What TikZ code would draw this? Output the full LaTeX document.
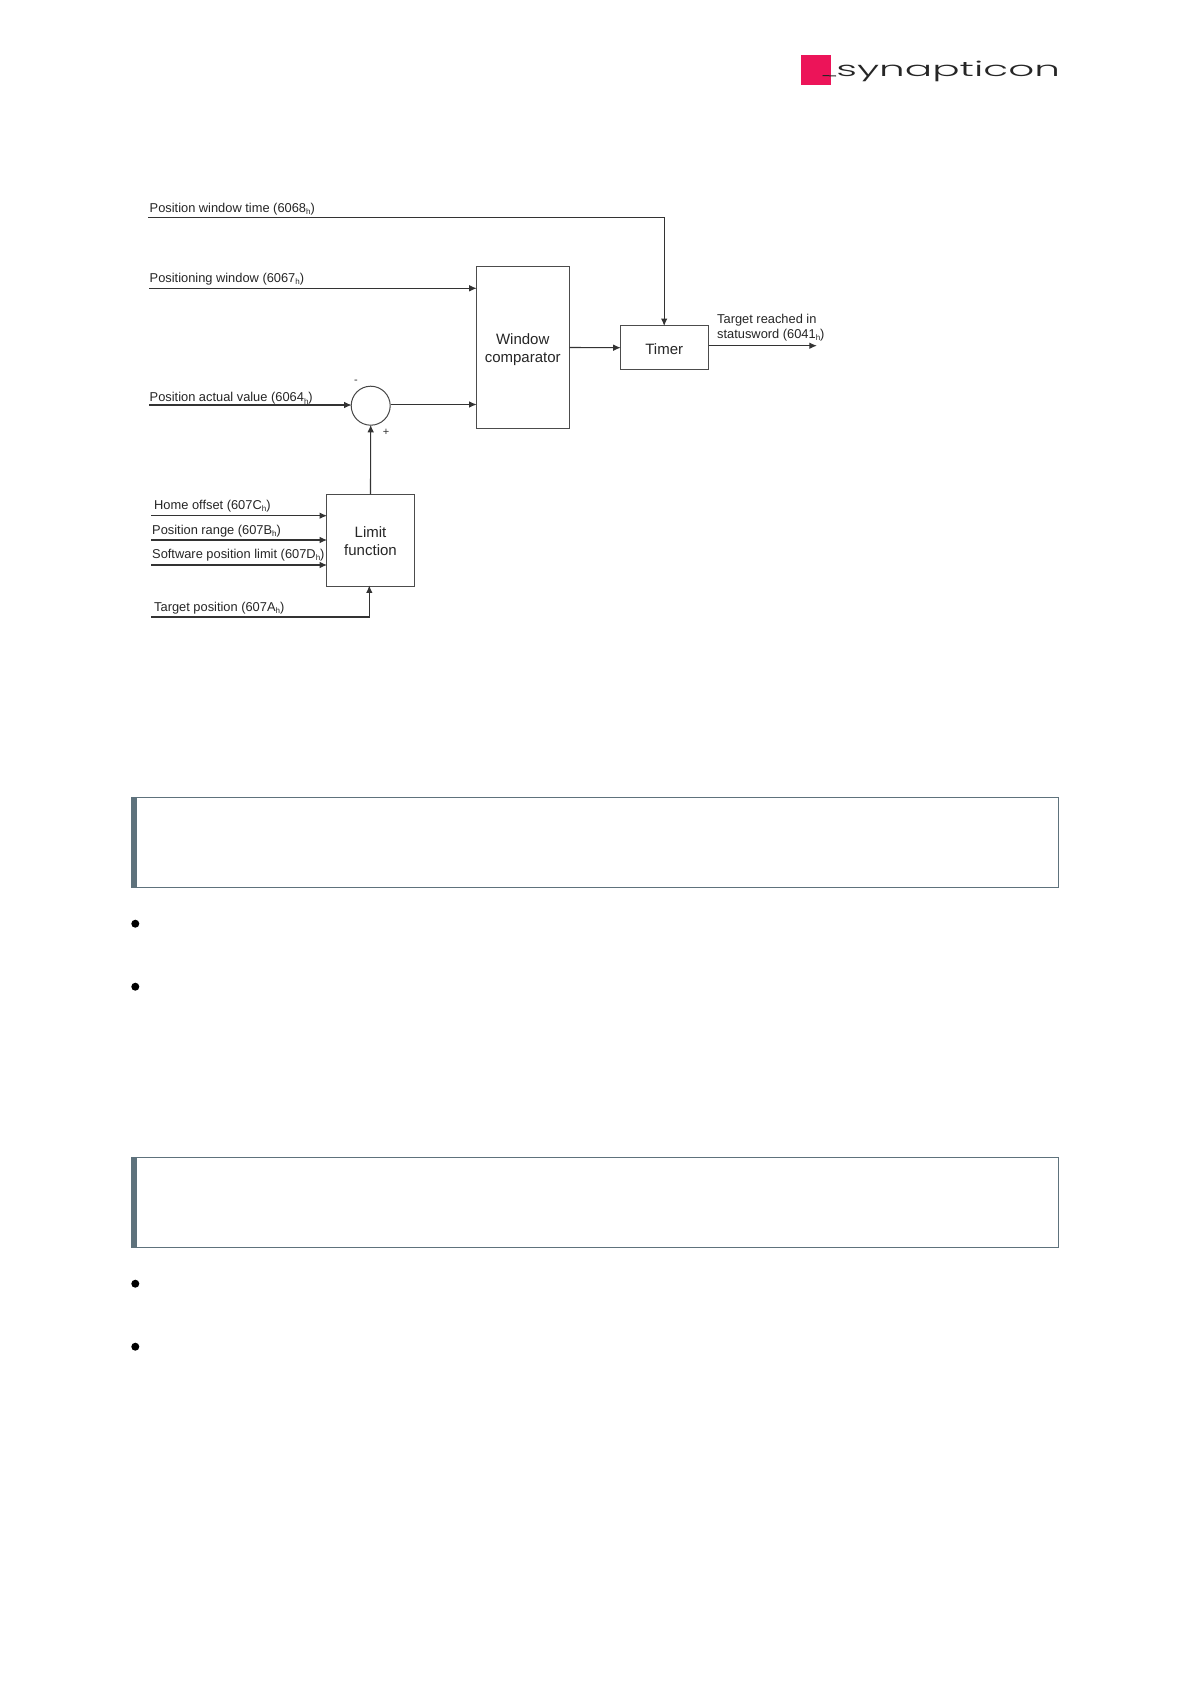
\documentclass[tikz,border=0pt]{standalone}
\usepackage{fontspec}
\setmainfont{Liberation Sans}
\newfontfamily\logofont{Poppins Light}
\usetikzlibrary{arrows.meta,calc}
\newcommand{\hsb}[1]{#1\raisebox{-2.4pt}{\fontsize{8}{8}\selectfont h})}
\tikzset{
  wire/.style={draw=black!80,line width=1.1pt},
  arr/.style={wire,shorten >=-0.9pt,-{Latex[length=7.5pt,width=6.5pt]}},
  blockbox/.style={draw=black!70,line width=1.05pt,fill=white,inner sep=0pt,align=center},
  lab/.style={anchor=base west,inner sep=0pt,font=\fontsize{12.85}{14}\selectfont,text=black!85},
  blab/.style={anchor=base,inner sep=0pt,font=\fontsize{15}{16}\selectfont,text=black!85},
  sgn/.style={inner sep=0pt,font=\fontsize{11}{11}\selectfont,text=black!80},
  panel/.style={draw=panelc,line width=1.1pt,fill=white},
  panelbar/.style={fill=panelc,draw=none},
  bullet/.style={circle,fill=black,draw=none,minimum size=8pt,inner sep=0pt}
}
\definecolor{panelc}{HTML}{5E727C}
\definecolor{logor}{HTML}{EC1459}
\begin{document}
\begin{tikzpicture}[x=1pt,y=-1pt]
\useasboundingbox (0,0) rectangle (1190,1684);
\fill[white] (0,0) rectangle (1190,1684);
% logo
\node[fill=logor,minimum width=30pt,minimum height=30pt,inner sep=0pt] (logosq) at (816,70) {};
\node[anchor=base west,inner sep=0pt,text=black!85,font=\logofont\fontsize{20.5}{22}\selectfont,xscale=1.98] (logotx) at (836,76) {synapticon};
\coordinate (logobar) at (822.5,75.5);
\draw[line width=1pt,black!85] (logobar) -- (logotx.base west);
% blocks
\node[blockbox,minimum width=92.7pt,minimum height=161.6pt] (win) at (522.7,347.5) {};
\node[blockbox,minimum width=87.7pt,minimum height=44pt] (timer) at (664.2,347.7) {};
\node[blockbox,minimum width=87.6pt,minimum height=91.6pt] (limit) at (370.5,540.5) {};
\node[draw=black!72,line width=1pt,circle,minimum size=39pt,inner sep=0pt] (sum) at (370.7,405.7) {};
% block labels
\node[blab] (wint1) at (522.7,344.3) {Window};
\node[blab] (wint2) at (522.7,362.3) {comparator};
\node[blab] (timt) at (664.2,354) {Timer};
\node[blab] (limt1) at (370.5,537.7) {Limit};
\node[blab] (limt2) at (370.5,555.5) {function};
% signal labels
\node[lab] (l1) at (149.5,212) {Position window time (\hsb{6068}};
\node[lab] (l2) at (149.5,282) {Positioning window (\hsb{6067}};
\node[lab] (l3) at (149.5,401.7) {Position actual value (\hsb{6064}};
\node[lab] (l4) at (154,509) {Home offset (\hsb{607C}};
\node[lab] (l5) at (152,534) {Position range (\hsb{607B}};
\node[lab] (l6) at (152,558) {Software position limit (\hsb{607D}};
\node[lab] (l7) at (154,611) {Target position (\hsb{607A}};
\node[lab] (l8) at (717,323) {Target reached in};
\node[lab] (l9) at (717,338.3) {statusword (\hsb{6041}};
\node[sgn] (minus) at (356,382) {-};
\node[sgn] (plus) at (386,432) {+};
% free ends
\coordinate (s1) at (148,217.7);
\coordinate (s2) at (149,288.3);
\coordinate (s3) at (149,405);
\coordinate (s4) at (151,515.7);
\coordinate (s5) at (151,540);
\coordinate (s6) at (151,565);
\coordinate (s7) at (151,617);
\coordinate (out) at (816,345.7);
\coordinate (inA) at (369.3,586.3);
% connectors
\draw[arr] (s1) -| (timer.north);
\draw[arr] (s2) -- (s2 -| win.west);
\draw[arr] (s3) -- (s3 -| sum.west);
\draw[arr] (sum.east |- 0,404.5) -- (win.west |- 0,404.5);
\draw[arr] (limit.north) -- (sum.south);
\draw[arr] (s4) -- (s4 -| limit.west);
\draw[arr] (s5) -- (s5 -| limit.west);
\draw[arr] (s6) -- (s6 -| limit.west);
\draw[arr] (s7) -| (inA);
\draw[arr] (win.east) -- (timer.west);
\draw[arr] (timer.east |- out) -- (out);
% panels
\draw[panel] (134,797.5) rectangle (1058.5,887.5);
\fill[panelbar] (131,797) rectangle (136.7,888);
\draw[panel] (134,1157.5) rectangle (1058.5,1247.5);
\fill[panelbar] (131,1157) rectangle (136.7,1248);
% bullets
\node[bullet] (b1) at (135.3,923.7) {};
\node[bullet] (b2) at (135.3,986.7) {};
\node[bullet] (b3) at (135.3,1283.7) {};
\node[bullet] (b4) at (135.3,1346.7) {};
\end{tikzpicture}
\end{document}
